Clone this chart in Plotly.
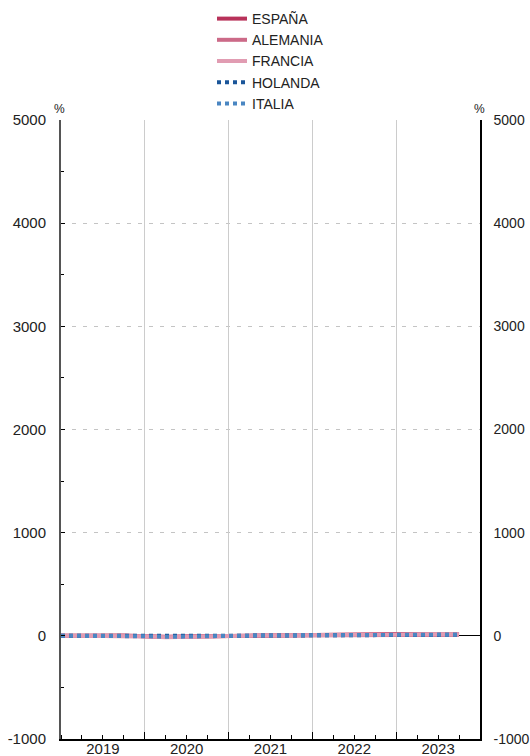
import plotly.graph_objects as go

# Quarterly periods (decimal years, start of quarter)
periods = [2019.0, 2019.25, 2019.5, 2019.75,
           2020.0, 2020.25, 2020.5, 2020.75,
           2021.0, 2021.25, 2021.5, 2021.75,
           2022.0, 2022.25, 2022.5, 2022.75,
           2023.0, 2023.25, 2023.5, 2023.75]

# Variación (%) por país
espana = [2, 3, 3, 4, -4, -12, -6, -3, -1, 3, 5, 6, 8, 11, 14, 16, 17, 16, 14, 12]
alemania = [1, 2, 2, 3, -3, -9, -4, -2, 0, 2, 4, 5, 7, 10, 13, 15, 16, 15, 13, 11]
francia = [2, 2, 3, 3, -5, -14, -7, -4, -2, 2, 4, 6, 9, 12, 15, 18, 19, 18, 16, 14]
holanda = [1, 1, 2, 2, -2, -7, -3, -1, 1, 2, 3, 4, 6, 8, 10, 12, 13, 12, 11, 10]
italia = [1, 2, 2, 3, -4, -10, -5, -3, -1, 2, 3, 5, 7, 9, 11, 13, 14, 13, 12, 10]

year_labels = ["2019", "2020", "2021", "2022", "2023"]
year_mid = [2019.5, 2020.5, 2021.5, 2022.5, 2023.5]
year_bounds = [2019, 2020, 2021, 2022, 2023, 2024]

y_ticks = [-1000, 0, 1000, 2000, 3000, 4000, 5000]
y_labels = ["-1000", "0", "1000", "2000", "3000", "4000", "5000"]

series = [
    ("ESPAÑA", espana, "#b8325a", "solid"),
    ("ALEMANIA", alemania, "#cc6a88", "solid"),
    ("FRANCIA", francia, "#e19cb2", "solid"),
    ("HOLANDA", holanda, "#1a5599", "dot"),
    ("ITALIA", italia, "#4a86c2", "dot"),
]

FONT = "Liberation Sans, Arial, Helvetica, sans-serif"

fig = go.Figure()
for name, vals, color, dash in series:
    fig.add_trace(go.Scatter(
        x=periods, y=vals, name=name, mode="lines",
        line=dict(color=color, width=4, dash=dash),
    ))

# dummy trace to activate the right axis and the year-boundary axis
fig.add_trace(go.Scatter(x=[periods[0]], y=[0], xaxis="x2", yaxis="y2",
                         mode="lines", showlegend=False, hoverinfo="skip",
                         line=dict(width=0)))

fig.update_layout(
    width=530, height=756,
    margin=dict(l=61, r=50, t=120, b=17, autoexpand=False),
    plot_bgcolor="white", paper_bgcolor="white",
    font=dict(family=FONT, size=15, color="#222"),
    showlegend=True,
    legend=dict(x=0.5, xanchor="center", y=1.189, yanchor="top",
                orientation="v", font=dict(size=14, color="#222"),
                tracegroupgap=0, bgcolor="rgba(0,0,0,0)"),
    xaxis=dict(
        range=[2019, 2024], tickvals=year_mid, ticktext=year_labels,
        ticks="", showgrid=False, zeroline=False, automargin=False,
        showline=True, linecolor="black", linewidth=1.5,
        tickfont=dict(size=15, color="#222"), ticklabelstandoff=-5,
        minor=dict(dtick=0.25, tick0=2019, ticks="inside", ticklen=4,
                   tickcolor="black", showgrid=False),
    ),
    xaxis2=dict(
        range=[2019, 2024], overlaying="x", tickvals=year_bounds,
        showticklabels=False, ticks="inside", ticklen=7, tickcolor="black",
        showgrid=True, gridcolor="#cccccc", gridwidth=1, zeroline=False,
        showline=False, automargin=False,
    ),
    yaxis=dict(
        range=[-1000, 5000], tickvals=y_ticks, ticktext=y_labels,
        ticks="inside", ticklen=4, tickcolor="black", automargin=False,
        showgrid=True, gridcolor="#c4c4c4", griddash="4px,7px", gridwidth=1,
        zeroline=True, zerolinecolor="black", zerolinewidth=1,
        showline=True, linecolor="#555", linewidth=2,
        tickfont=dict(size=15, color="#222"), ticklabelstandoff=10,
        minor=dict(dtick=500, tick0=0, ticks="inside", ticklen=3,
                   tickcolor="black", showgrid=False),
    ),
    yaxis2=dict(
        range=[-1000, 5000], tickvals=y_ticks, ticktext=y_labels,
        overlaying="y", side="right", automargin=False,
        ticks="", showgrid=False, zeroline=False,
        showline=True, linecolor="black", linewidth=1.5,
        tickfont=dict(size=14, color="#222"), ticklabelstandoff=9,
    ),
    annotations=[
        dict(text="%", x=0, xref="paper", xanchor="center", xshift=-2,
             y=1, yref="paper", yanchor="bottom", yshift=2,
             showarrow=False, font=dict(size=12, color="#222")),
        dict(text="%", x=1, xref="paper", xanchor="center", xshift=-1,
             y=1, yref="paper", yanchor="bottom", yshift=2,
             showarrow=False, font=dict(size=12, color="#222")),
    ],
)

# drop the default body margin so the 530x756 figure fills the window
fig.write_html("out.html", config={"displayModeBar": False},
               post_script="document.body.style.margin='0';")
